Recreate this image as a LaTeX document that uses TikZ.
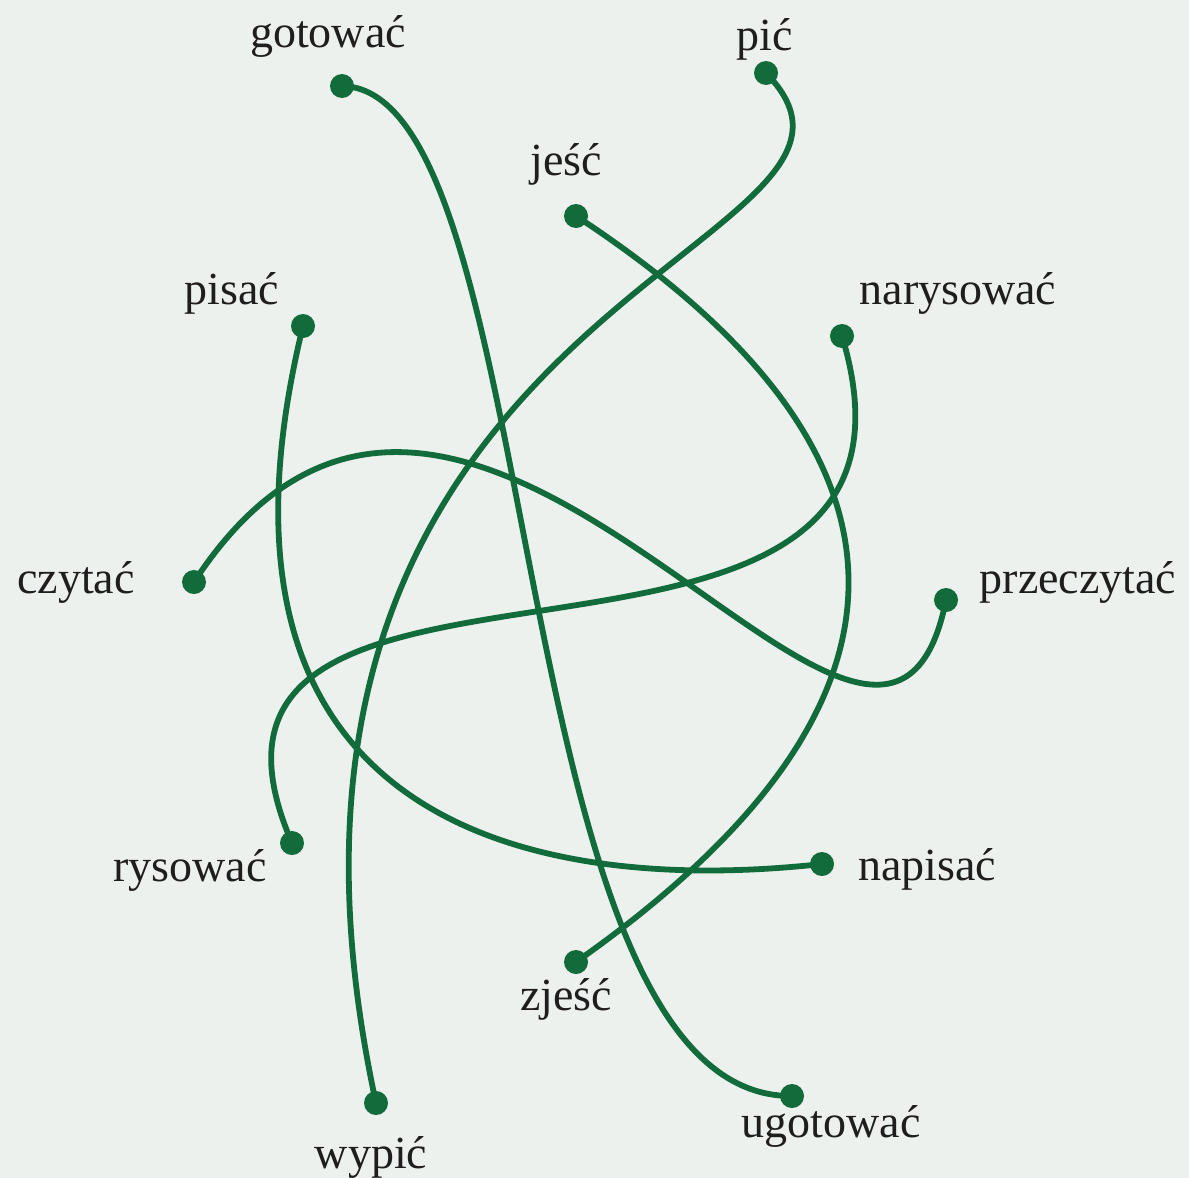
\documentclass[tikz,border=0pt]{standalone}
\usepackage{fontspec}
\setmainfont{Liberation Serif}
\definecolor{bg}{HTML}{EDF1ED}
\definecolor{ln}{HTML}{116B3A}
\definecolor{tx}{HTML}{1E1E1E}
\begin{document}
\begin{tikzpicture}[x=1pt,y=-1pt,
  dot/.style={circle,fill=ln,inner sep=0pt,minimum size=24pt},
  link/.style={draw=ln,line width=5.8pt},
  word/.style={anchor=base,text=tx,font=\fontsize{46}{55}\selectfont,inner sep=0pt}]
\fill[bg] (0,0) rectangle (1189,1178);
\useasboundingbox (0,0) rectangle (1189,1178);
% dots
\node[dot] (got) at (342,86) {};
\node[dot] (pic) at (766,73) {};
\node[dot] (jesc) at (576,216) {};
\node[dot] (pisac) at (303,326) {};
\node[dot] (nary) at (842,336) {};
\node[dot] (czyt) at (194,582) {};
\node[dot] (prze) at (946,600) {};
\node[dot] (rys) at (292,843) {};
\node[dot] (napi) at (822,864) {};
\node[dot] (zjesc) at (576,962) {};
\node[dot] (ugot) at (792,1096) {};
\node[dot] (wyp) at (376,1103) {};
% connectors
\draw[link] (got.center) .. controls (550,90) and (499,1098) .. (ugot.center);
\draw[link] (pic.center) .. controls (940,250) and (200,290) .. (wyp.center);
\draw[link] (jesc.center) .. controls (915,438) and (963,690) .. (zjesc.center);
\draw[link] (pisac.center) .. controls (180,830) and (540,895) .. (napi.center);
\draw[link] (nary.center) .. controls (970,760) and (130,470) .. (rys.center);
\draw[link] (czyt.center) .. controls (470,160) and (880,930) .. (prze.center);
% labels
\node[word] (tgot) at (328,47) {gotować};
\node[word] (tpic) at (765,50) {pić};
\node[word] (tjesc) at (566,175) {jeść};
\node[word] (tpisac) at (232,304) {pisać};
\node[word] (tnary) at (958,304) {narysować};
\node[word] (tczyt) at (76,593) {czytać};
\node[word] (tprze) at (1078,593) {przeczytać};
\node[word] (trys) at (190,881) {rysować};
\node[word] (tnapi) at (927,880) {napisać};
\node[word] (tzjesc) at (566,1010) {zjeść};
\node[word] (tugot) at (831,1137) {ugotować};
\node[word] (twyp) at (371,1168) {wypić};
\end{tikzpicture}
\end{document}
